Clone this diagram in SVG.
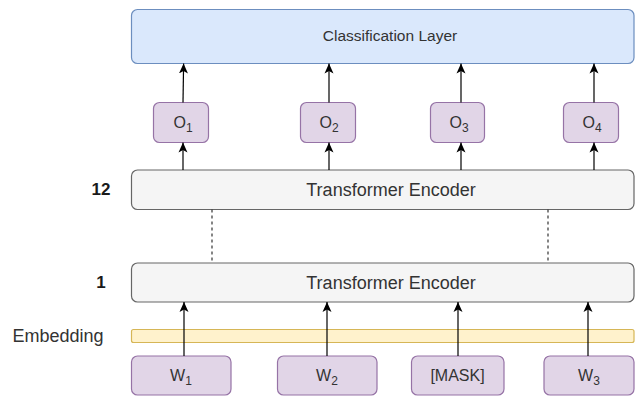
<svg xmlns="http://www.w3.org/2000/svg" width="635" height="396" viewBox="0 0 635 396">
  <defs>
    <style>
      text { font-family: "Liberation Sans", Arial, sans-serif; fill: #333333; }
      .cls rect { fill: #dae8fc; stroke: #6c8ebf; stroke-width: 1.2; }
      .enc rect { fill: #f5f5f5; stroke: #666666; stroke-width: 1.2; }
      .out rect { fill: #e1d5e7; stroke: #9673a6; stroke-width: 1.2; }
      .emb rect { fill: #fff2cc; stroke: #d6b656; stroke-width: 1.2; }
      .lbl { font-size: 16px; text-anchor: middle; }
      .big { font-size: 18px; text-anchor: middle; }
      .num { font-size: 17px; font-weight: bold; text-anchor: middle; fill: #1a1a1a; }
      .arrow { stroke: #000000; stroke-width: 1.2; fill: none; marker-end: url(#ah); }
      .dash { stroke: #333333; stroke-width: 1.2; fill: none; stroke-dasharray: 3 3; }
    </style>
    <marker id="ah" markerUnits="userSpaceOnUse" markerWidth="10" markerHeight="12" viewBox="0 0 10 12" refX="10" refY="5" orient="auto">
      <path d="M0,0.5 L10,5 L0,9.5 L2.5,5 Z" fill="#000000"/>
    </marker>
  </defs>

  <g id="classification-layer" class="cls">
    <rect x="131.5" y="9.5" width="502.5" height="54" rx="6" ry="6"/>
    <text x="390" y="40.5" style="font-size:15.5px;text-anchor:middle">Classification Layer</text>
  </g>

  <g id="o1" class="out">
    <rect x="153.5" y="102.5" width="55" height="40" rx="6" ry="6"/>
    <text class="lbl" x="183" y="128">O<tspan style="font-size:12px" dy="4">1</tspan></text>
  </g>
  <g id="o2" class="out">
    <rect x="300.5" y="102.5" width="55" height="40" rx="6" ry="6"/>
    <text class="lbl" x="329" y="128">O<tspan style="font-size:12px" dy="4">2</tspan></text>
  </g>
  <g id="o3" class="out">
    <rect x="430.5" y="102.5" width="54" height="40" rx="6" ry="6"/>
    <text class="lbl" x="459" y="128">O<tspan style="font-size:12px" dy="4">3</tspan></text>
  </g>
  <g id="o4" class="out">
    <rect x="563.5" y="102.5" width="55" height="40" rx="6" ry="6"/>
    <text class="lbl" x="592" y="128">O<tspan style="font-size:12px" dy="4">4</tspan></text>
  </g>

  <g id="encoder-12" class="enc">
    <rect x="131.5" y="170" width="502.5" height="39.5" rx="6" ry="6"/>
    <text class="big" x="391" y="196">Transformer Encoder</text>
  </g>
  <g id="label-12"><text class="num" x="101" y="195">12</text></g>

  <g id="encoder-1" class="enc">
    <rect x="131.5" y="263" width="502.5" height="39" rx="6" ry="6"/>
    <text class="big" x="391" y="289">Transformer Encoder</text>
  </g>
  <g id="label-1"><text class="num" x="101" y="288">1</text></g>

  <g id="embedding" class="emb">
    <rect x="131.5" y="329.5" width="502.5" height="13" rx="2" ry="2"/>
  </g>
  <g id="label-embedding"><text class="big" x="58" y="341.5">Embedding</text></g>

  <g id="w1" class="out">
    <rect x="131.5" y="356" width="99.5" height="39" rx="6" ry="6"/>
    <text class="lbl" x="181" y="381">W<tspan style="font-size:12px" dy="4">1</tspan></text>
  </g>
  <g id="w2" class="out">
    <rect x="277.5" y="356" width="99.5" height="39" rx="6" ry="6"/>
    <text class="lbl" x="327" y="381">W<tspan style="font-size:12px" dy="4">2</tspan></text>
  </g>
  <g id="mask" class="out">
    <rect x="411.5" y="356" width="92.5" height="39" rx="6" ry="6"/>
    <text class="lbl" x="457.5" y="381">[MASK]</text>
  </g>
  <g id="w3" class="out">
    <rect x="544" y="356" width="90" height="39" rx="6" ry="6"/>
    <text class="lbl" x="589" y="381">W<tspan style="font-size:12px" dy="4">3</tspan></text>
  </g>

  <g id="connectors">
    <path class="arrow" d="M183,102.5 L183.6,63.5"/>
    <path class="arrow" d="M329,102.5 L329,63.5"/>
    <path class="arrow" d="M461,102.5 L461,63.5"/>
    <path class="arrow" d="M594,102.5 L594,63.5"/>

    <path class="arrow" d="M183,170 L183,142.5"/>
    <path class="arrow" d="M329,170 L329,142.5"/>
    <path class="arrow" d="M461,170 L461,142.5"/>
    <path class="arrow" d="M594,170 L594,142.5"/>

    <path class="dash" d="M212,209.5 L212,263"/>
    <path class="dash" d="M548,209.5 L548,263"/>

    <path class="arrow" d="M184,356 L184,302"/>
    <path class="arrow" d="M327,356 L327,302"/>
    <path class="arrow" d="M458,356 L458,302"/>
    <path class="arrow" d="M588,356 L588,302"/>
  </g>
</svg>
